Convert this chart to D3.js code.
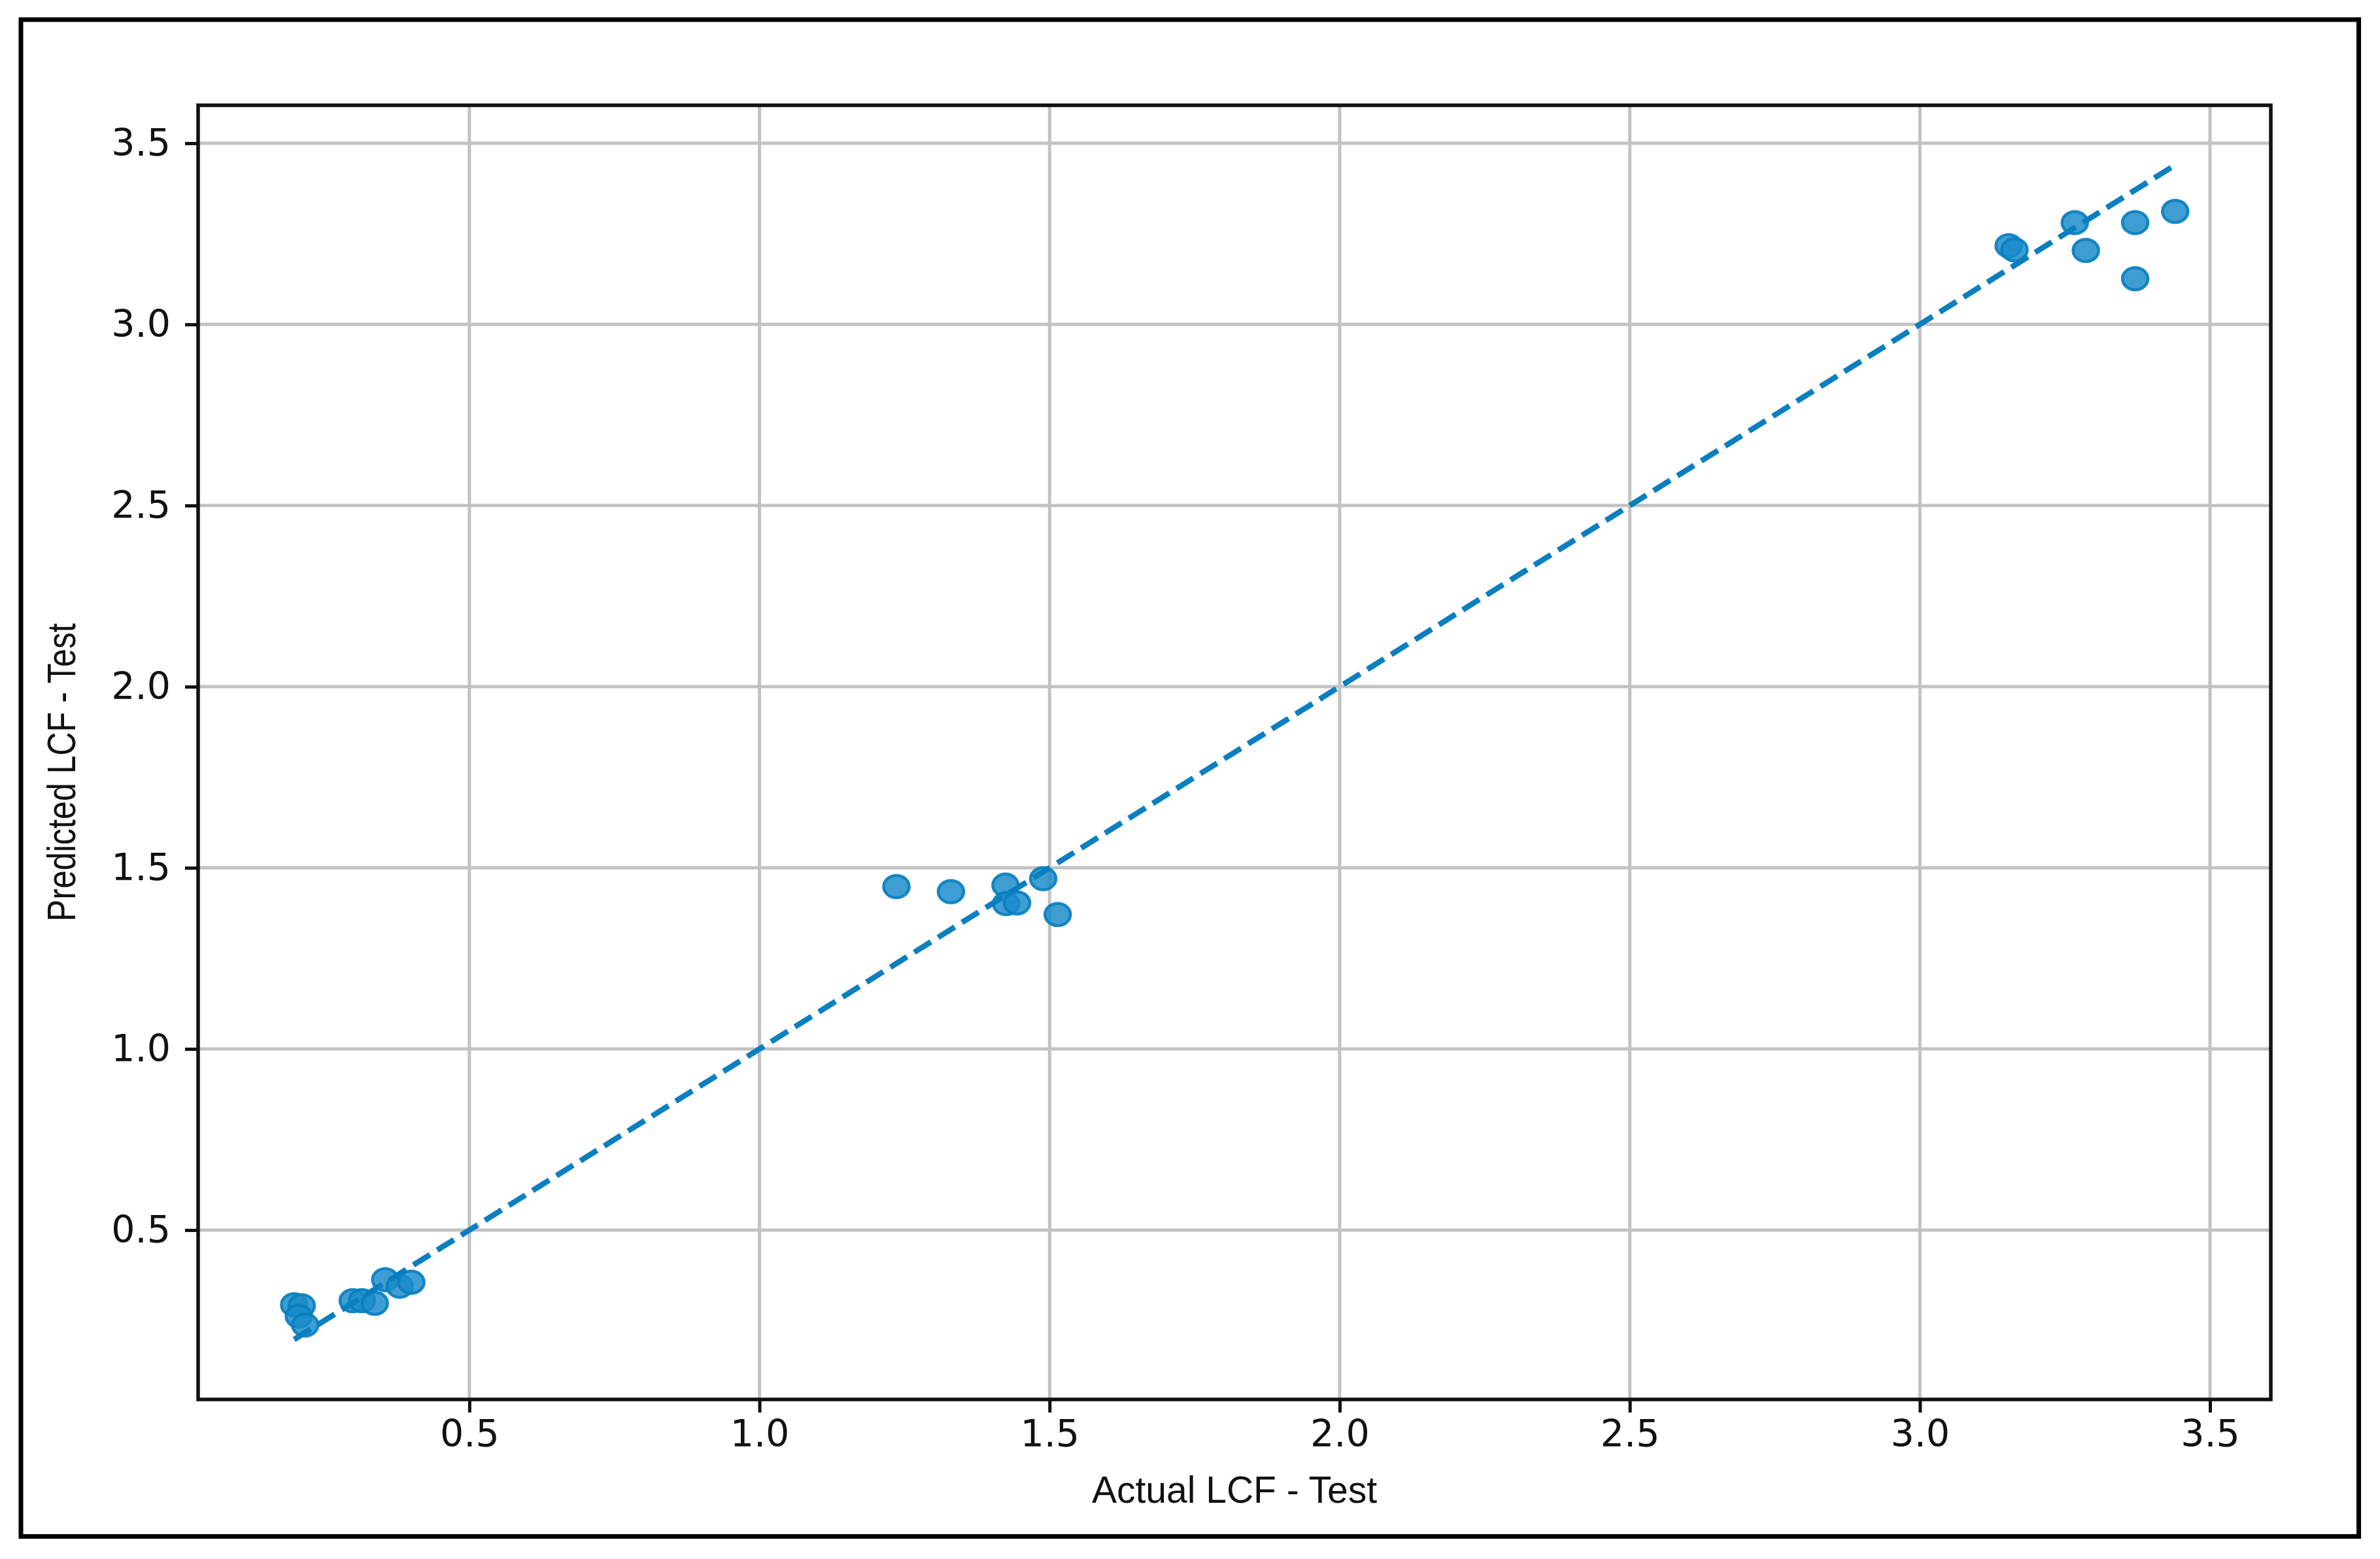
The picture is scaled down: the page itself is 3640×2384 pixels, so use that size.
<!DOCTYPE html>
<html>
<head>
<meta charset="utf-8">
<script src="https://cdn.jsdelivr.net/npm/d3@7"></script>
<style>
  html, body { margin: 0; padding: 0; background: #fff; }
  svg { display: block; }
</style>
</head>
<body>
<script>
// ---- data ----
const actual = [
  0.198, 0.211, 0.206, 0.217, 0.299, 0.315, 0.337, 0.355, 0.380, 0.400,
  1.236, 1.330, 1.424, 1.425, 1.444, 1.489, 1.514,
  3.153, 3.163, 3.267, 3.286, 3.371, 3.440, 3.371
];
const predicted = [
  0.294, 0.291, 0.262, 0.238, 0.305, 0.305, 0.298, 0.363, 0.345, 0.356,
  1.448, 1.434, 1.452, 1.401, 1.403, 1.470, 1.371,
  3.217, 3.206, 3.281, 3.204, 3.281, 3.312, 3.126
];
const xTicks = [0.5, 1.0, 1.5, 2.0, 2.5, 3.0, 3.5];
const yTicks = [0.5, 1.0, 1.5, 2.0, 2.5, 3.0, 3.5];
const xLabel = "Actual LCF - Test";
const yLabel = "Predicted LCF - Test";

// ---- layout ----
const W = 3640, H = 2384;
const plot = { left: 303, top: 161, right: 3473, bottom: 2140 };
const domain = [0.0325, 3.6048];
const blue = "#0a7fc0";

const svg = d3.select("body").append("svg")
  .attr("width", W).attr("height", H)
  .attr("viewBox", `0 0 ${W} ${H}`);

svg.append("rect").attr("width", W).attr("height", H).attr("fill", "#fff");

// outer frame
svg.append("rect")
  .attr("x", 32).attr("y", 30)
  .attr("width", 3575.5).attr("height", 2319.5)
  .attr("fill", "none").attr("stroke", "#000").attr("stroke-width", 7);

const x = d3.scaleLinear().domain(domain).range([plot.left, plot.right]);
const y = d3.scaleLinear().domain(domain).range([plot.bottom, plot.top]);

// clip
svg.append("defs").append("clipPath").attr("id", "clip")
  .append("rect")
  .attr("x", plot.left).attr("y", plot.top)
  .attr("width", plot.right - plot.left).attr("height", plot.bottom - plot.top);

// grid
const grid = svg.append("g").attr("clip-path", "url(#clip)");
grid.selectAll("line.gx").data(xTicks).join("line")
  .attr("class", "gx")
  .attr("x1", d => x(d)).attr("x2", d => x(d))
  .attr("y1", plot.top).attr("y2", plot.bottom)
  .attr("stroke", "#c2c2c2").attr("stroke-width", 5);
grid.selectAll("line.gy").data(yTicks).join("line")
  .attr("class", "gy")
  .attr("y1", d => y(d)).attr("y2", d => y(d))
  .attr("x1", plot.left).attr("x2", plot.right)
  .attr("stroke", "#c2c2c2").attr("stroke-width", 5);

// points
const pts = actual.map((a, i) => ({ a, p: predicted[i] }));
const dots = svg.append("g").attr("clip-path", "url(#clip)");
dots.selectAll("ellipse").data(pts).join("ellipse")
  .attr("cx", d => x(d.a)).attr("cy", d => y(d.p))
  .attr("rx", 19.5).attr("ry", 17)
  .attr("fill", "#1a8bc8").attr("fill-opacity", 0.84)
  .attr("stroke", blue).attr("stroke-opacity", 0.92).attr("stroke-width", 4.5);

// ideal line y = x over range of actual
const ext = d3.extent(actual);
svg.append("line")
  .attr("x1", x(ext[0])).attr("y1", y(ext[0]))
  .attr("x2", x(ext[1])).attr("y2", y(ext[1]))
  .attr("stroke", blue).attr("stroke-width", 8.5)
  .attr("stroke-dasharray", "30,13");

// axes
const xAxis = d3.axisBottom(x).tickValues(xTicks).tickFormat(d3.format(".1f"))
  .tickSize(20).tickPadding(12).tickSizeOuter(0);
const yAxis = d3.axisLeft(y).tickValues(yTicks).tickFormat(d3.format(".1f"))
  .tickSize(20).tickPadding(22).tickSizeOuter(0);

const gx = svg.append("g").attr("transform", `translate(0,${plot.bottom})`).call(xAxis);
const gy = svg.append("g").attr("transform", `translate(${plot.left},0)`).call(yAxis);
[gx, gy].forEach(g => {
  g.select(".domain").remove();
  g.selectAll(".tick line").attr("stroke", "#111").attr("stroke-width", 5);
  g.selectAll(".tick text")
    .attr("fill", "#111")
    .style("font-family", "'DejaVu Sans', sans-serif")
    .style("font-size", "57px");
});

// spines (box)
svg.append("rect")
  .attr("x", plot.left).attr("y", plot.top)
  .attr("width", plot.right - plot.left).attr("height", plot.bottom - plot.top)
  .attr("fill", "none").attr("stroke", "#111").attr("stroke-width", 5.5);

// axis labels
svg.append("text")
  .attr("x", (plot.left + plot.right) / 2).attr("y", 2298)
  .attr("text-anchor", "middle")
  .style("font-family", "'Liberation Sans', Arial, sans-serif")
  .style("font-size", "57px").attr("fill", "#111")
  .attr("textLength", 436).attr("lengthAdjust", "spacingAndGlyphs")
  .text(xLabel);

svg.append("text")
  .attr("transform", `translate(115,1181) rotate(-90)`)
  .attr("text-anchor", "middle")
  .style("font-family", "'Liberation Sans', Arial, sans-serif")
  .style("font-size", "62px").attr("fill", "#111")
  .attr("textLength", 456).attr("lengthAdjust", "spacingAndGlyphs")
  .text(yLabel);
</script>
</body>
</html>
